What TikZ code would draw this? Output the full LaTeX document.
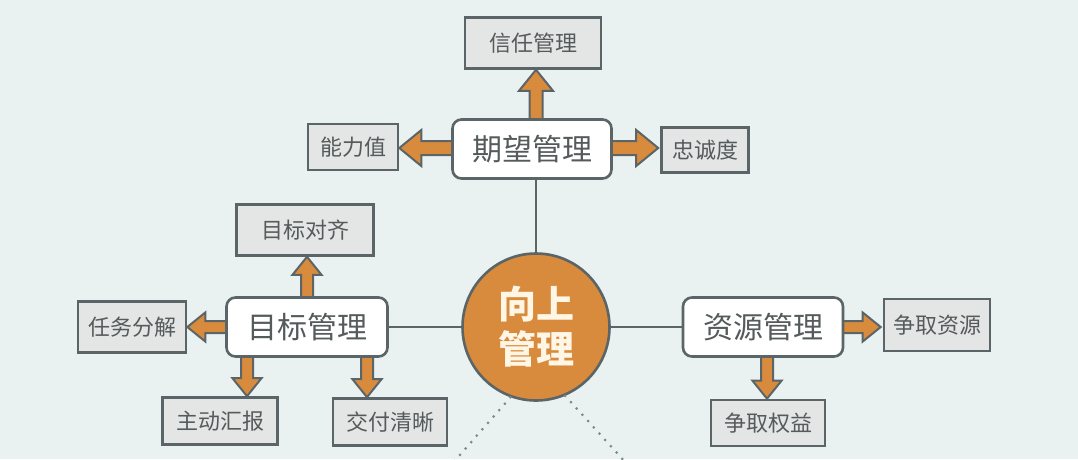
\documentclass[tikz,border=0pt]{standalone}
\usepackage{fontspec}
\newfontfamily\cjk{Noto Sans CJK SC}
\usetikzlibrary{calc}
\definecolor{bg}{HTML}{E9F1F1}
\definecolor{edge}{HTML}{5B6466}
\definecolor{subfill}{HTML}{E4E5E5}
\definecolor{org}{HTML}{D98B3D}
\definecolor{txt}{HTML}{555A5B}
\definecolor{cream}{HTML}{FFF6E6}
\definecolor{dots}{HTML}{7D8A8B}
\tikzset{
  subbox/.style={draw=edge, line width=2.6pt, fill=subfill, text=txt, font=\cjk\fontsize{22}{24}\selectfont, minimum height=#1, inner sep=0pt},
  mainbox/.style={draw=edge, line width=2.6pt, fill=white, rounded corners=9pt, text=txt, font=\cjk\fontsize{30}{34}\selectfont, minimum width=159pt, minimum height=59pt, inner sep=0pt},
  link/.style={draw=edge, line width=2.8pt},
  fat/.style={fill=org, draw=edge, line width=2pt, line join=miter},
  dotline/.style={draw=dots, line width=3pt, line cap=round, dash pattern=on 0pt off 8.5pt},
}
% fat arrow: #1 start, #2 end, #3 shaft half-width, #4 head half-width, #5 head length
\newcommand\fatarrow[5]{%
  \coordinate (fH) at ($(#2)!#5!(#1)$);
  \path[fat] ($(#1)!#3!90:(#2)$) -- ($(fH)!#3!90:(#2)$) -- ($(fH)!#4!90:(#2)$) -- (#2)
    -- ($(fH)!#4!-90:(#2)$) -- ($(fH)!#3!-90:(#2)$) -- ($(#1)!#3!-90:(#2)$) -- cycle;
}
\begin{document}
\begin{tikzpicture}[x=1pt,y=-1pt]
\fill[bg] (0,0) rectangle (1078,459);
\useasboundingbox (0,0) rectangle (1078,459);
\clip (0,0) rectangle (1078,459);

% center circle
\node[circle, draw=edge, line width=2.6pt, fill=org, minimum size=147pt, inner sep=0pt,
      text=cream, font=\cjk\bfseries\fontsize{38}{45}\selectfont, align=center] (c) at (536,327) {向上\\管理};

% main boxes
\node[mainbox] (qw) at (532,149) {期望管理};
\node[mainbox, minimum width=161pt] (mb) at (307,327) {目标管理};
\node[mainbox, minimum width=160pt] (zy) at (763,327) {资源管理};

% sub boxes
\node[subbox=51pt, minimum width=136pt] (xr) at (533,43) {信任管理};
\node[subbox=46pt, minimum width=90pt] (nl) at (353,147) {能力值};
\node[subbox=45pt, minimum width=87pt] (zc) at (705,150) {忠诚度};
\node[subbox=51pt, minimum width=137pt] (dq) at (305,230) {目标对齐};
\node[subbox=51pt, minimum width=108pt] (rw) at (132,327) {任务分解};
\node[subbox=47pt, minimum width=115pt] (zd) at (220,421) {主动汇报};
\node[subbox=47pt, minimum width=114pt] (jf) at (390,422) {交付清晰};
\node[subbox=52pt, minimum width=106pt] (zq) at (937,325) {争取资源};
\node[subbox=46pt, minimum width=114pt] (qy) at (768,423) {争取权益};

% links to circle
\draw[link] (qw.south -| c) -- (c);
\draw[link] (mb) -- (c);
\draw[link] (zy) -- (c);

% dotted lines
\coordinate (dl) at (452,464);
\coordinate (dr) at (627,464);
\draw[dotline] (c.250) -- (dl);
\draw[dotline] (c.293) -- (dr);

% arrows from 期望管理
\coordinate (a1s) at ($(qw.north)+(4,1)$);
\coordinate (a1e) at (a1s |- xr.south);
\fatarrow{a1s}{a1e}{6.5pt}{17pt}{21pt}
\coordinate (a2s) at ($(qw.west)+(1,-1)$);
\coordinate (a2e) at (a2s -| nl.east);
\fatarrow{a2s}{a2e}{7pt}{18pt}{22pt}
\coordinate (a3s) at ($(qw.east)+(-1,-1)$);
\coordinate (a3e) at ($(a3s -| zc.west)+(-2,0)$);
\fatarrow{a3s}{a3e}{7pt}{18pt}{22pt}

% arrows from 目标管理
\coordinate (b1s) at ($(mb.north)+(0,1)$);
\coordinate (b1e) at (b1s |- dq.south);
\fatarrow{b1s}{b1e}{6pt}{14.5pt}{18pt}
\coordinate (b2s) at ($(mb.west)+(1,0)$);
\coordinate (b2e) at (b2s -| rw.east);
\fatarrow{b2s}{b2e}{6pt}{14.5pt}{18pt}
\coordinate (b3s) at ($(mb.south)+(-60,-1)$);
\coordinate (b3e) at (b3s |- zd.north);
\fatarrow{b3s}{b3e}{6pt}{14.5pt}{18pt}
\coordinate (b4s) at ($(mb.south)+(60,-1)$);
\coordinate (b4e) at (b4s |- jf.north);
\fatarrow{b4s}{b4e}{6pt}{14.5pt}{18pt}

% arrows from 资源管理
\coordinate (r1s) at ($(zy.east)+(-1,0)$);
\coordinate (r1e) at ($(r1s -| zq.west)+(-2,0)$);
\fatarrow{r1s}{r1e}{6pt}{14.5pt}{18pt}
\coordinate (r2s) at ($(zy.south)+(4,-1)$);
\coordinate (r2e) at (r2s |- qy.north);
\fatarrow{r2s}{r2e}{6pt}{14.5pt}{18pt}
\end{tikzpicture}
\end{document}
